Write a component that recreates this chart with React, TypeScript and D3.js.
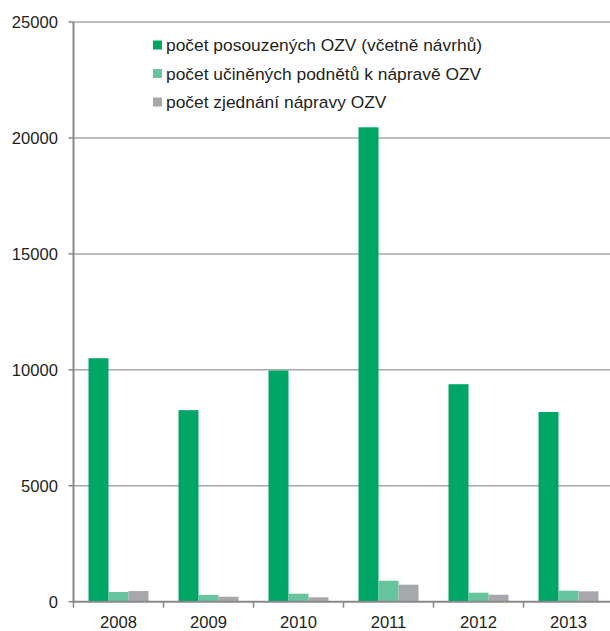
import React from "react";
import * as d3 from "d3";

const years = ["2008", "2009", "2010", "2011", "2012", "2013"];
const seriesNames = [
  "počet posouzených OZV (včetně návrhů)",
  "počet učiněných podnětů k nápravě OZV",
  "počet zjednání nápravy OZV",
];
const posouzene = [10500, 8260, 9970, 20460, 9380, 8180];
const podnety = [420, 290, 345, 905, 388, 474];
const napravy = [460, 215, 190, 733, 300, 448];
const yTicks = [0, 5000, 10000, 15000, 20000, 25000];
const colors = ["#00A665", "#66C59D", "#A7A8AB"];

export default function App() {
  const W = 610, H = 631;
  const left = 73.5, right = 613.5, top = 22, bottom = 601.7;
  const x = d3.scaleBand<string>().domain(years).range([left, right]).paddingInner(0).paddingOuter(0);
  const inner = d3.scaleBand<number>().domain([0, 1, 2]).range([0, x.bandwidth()]).paddingOuter(0.75).paddingInner(0);
  const y = d3.scaleLinear().domain([0, 25000]).range([bottom, top]);
  const data = [posouzene, podnety, napravy];
  const font = "'Liberation Sans', Arial, sans-serif";
  const textColor = "#231F20";

  return (
    <svg width={W} height={H} style={{ position: "absolute", left: 0, top: 0 }} fontFamily={font}>
      <rect width={W} height={H} fill="#fff" />
      {yTicks.filter(t => t > 0).map(t => (
        <line key={"g" + t} x1={left} x2={W} y1={y(t)} y2={y(t)} stroke="#A8A8A8" strokeWidth={1.5} />
      ))}
      {data.map((s, si) =>
        s.map((v, i) => (
          <rect
            key={si + "-" + i}
            x={(x(years[i]) ?? 0) + (inner(si) ?? 0)}
            y={y(v)}
            width={inner.bandwidth()}
            height={y(0) - y(v)}
            fill={colors[si]}
          />
        ))
      )}
      <line x1={left} x2={left} y1={top} y2={bottom + 1} stroke="#888" strokeWidth={2} />
      <line x1={left} x2={W} y1={bottom} y2={bottom} stroke="#888" strokeWidth={2} />
      {yTicks.map(t => (
        <g key={"t" + t}>
          <line x1={left - 5} x2={left} y1={y(t)} y2={y(t)} stroke="#888" strokeWidth={1.5} />
          <text x={58} y={y(t)} dy="0.35em" textAnchor="end" fontSize={16.6} fill={textColor}>
            {t}
          </text>
        </g>
      ))}
      {years.map((yr) => (
        <g key={yr}>
          <line x1={x(yr)} x2={x(yr)} y1={bottom} y2={bottom + 6} stroke="#888" strokeWidth={1.5} />
          <text x={(x(yr) ?? 0) + x.bandwidth() / 2} y={628} textAnchor="middle" fontSize={16.6} fill={textColor}>
            {yr}
          </text>
        </g>
      ))}
      {seriesNames.map((n, i) => (
        <g key={n} transform={`translate(153, ${45 + i * 28.5})`}>
          <rect x={0} y={-4.5} width={9} height={9} fill={colors[i]} />
          <text x={13} y={0} dy="0.35em" fontSize={17.4} fill={textColor}>
            {n}
          </text>
        </g>
      ))}
    </svg>
  );
}
